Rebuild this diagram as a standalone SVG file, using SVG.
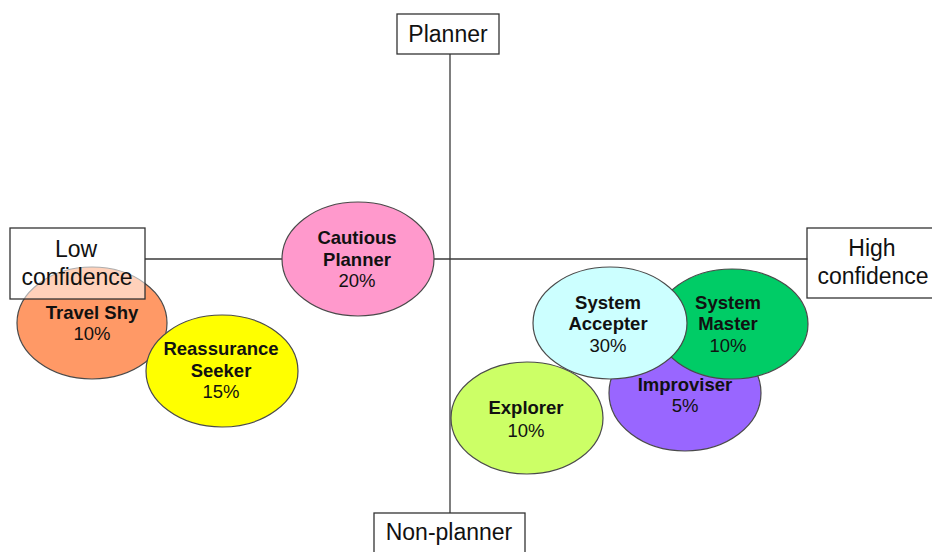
<svg xmlns="http://www.w3.org/2000/svg" width="932" height="552" viewBox="0 0 932 552">
  <style>
    .axis { stroke: #3a3a3a; stroke-width: 1.3; fill: none; }
    .seg { stroke: #4a4a4a; stroke-width: 1.2; }
    .box { fill: #ffffff; fill-opacity: 0.55; stroke: #333333; stroke-width: 1.3; }
    .lbl { font-family: "Liberation Sans", Arial, sans-serif; font-size: 23px; fill: #111111; text-anchor: middle; }
    .name { font-family: "Liberation Sans", Arial, sans-serif; font-size: 18.5px; font-weight: bold; fill: #111111; text-anchor: middle; }
    .pct { font-family: "Liberation Sans", Arial, sans-serif; font-size: 18.5px; fill: #111111; text-anchor: middle; }
  </style>

  <rect width="932" height="552" fill="#ffffff"/>

  <!-- axes -->
  <g id="connectors">
    <line class="axis" x1="450" y1="54" x2="450" y2="513"/>
    <line class="axis" x1="145" y1="259" x2="808" y2="259"/>
  </g>

  <!-- segments -->
  <g id="travel-shy">
    <ellipse class="seg" cx="92" cy="323" rx="75" ry="56" fill="#FF9966"/>
    <text class="name" x="92" y="319">Travel Shy</text>
    <text class="pct" x="92" y="340">10%</text>
  </g>
  <g id="reassurance-seeker">
    <ellipse class="seg" cx="222" cy="371" rx="76" ry="56" fill="#FFFF00"/>
    <text class="name" x="221" y="355">Reassurance</text>
    <text class="name" x="221" y="377">Seeker</text>
    <text class="pct" x="221" y="398">15%</text>
  </g>
  <g id="cautious-planner">
    <ellipse class="seg" cx="358" cy="259" rx="76" ry="57" fill="#FF99CC"/>
    <text class="name" x="357" y="244">Cautious</text>
    <text class="name" x="357" y="266">Planner</text>
    <text class="pct" x="357" y="287">20%</text>
  </g>
  <g id="explorer">
    <ellipse class="seg" cx="527" cy="418" rx="76" ry="56" fill="#CCFF66"/>
    <text class="name" x="526" y="414">Explorer</text>
    <text class="pct" x="526" y="437">10%</text>
  </g>
  <g id="improviser">
    <ellipse class="seg" cx="685" cy="393" rx="76" ry="58" fill="#9966FF"/>
    <text class="name" x="685" y="391">Improviser</text>
    <text class="pct" x="685" y="412">5%</text>
  </g>
  <g id="system-master">
    <ellipse class="seg" cx="732" cy="324" rx="76" ry="55" fill="#00CC66"/>
    <text class="name" x="728" y="309">System</text>
    <text class="name" x="728" y="330">Master</text>
    <text class="pct" x="728" y="352">10%</text>
  </g>
  <g id="system-accepter">
    <ellipse class="seg" cx="610" cy="323" rx="77" ry="56" fill="#CCFFFF"/>
    <text class="name" x="608" y="309">System</text>
    <text class="name" x="608" y="330">Accepter</text>
    <text class="pct" x="608" y="352">30%</text>
  </g>

  <!-- axis end labels -->
  <g id="planner">
    <rect class="box" x="397" y="14" width="102" height="40" fill-opacity="1"/>
    <text class="lbl" x="448" y="42">Planner</text>
  </g>
  <g id="non-planner">
    <rect class="box" x="374" y="513" width="151" height="50" fill-opacity="1"/>
    <text class="lbl" x="449" y="540">Non-planner</text>
  </g>
  <g id="low-confidence">
    <rect class="box" x="10" y="228" width="135" height="71"/>
    <text class="lbl" x="76" y="257">Low</text>
    <text class="lbl" x="77" y="285">confidence</text>
  </g>
  <g id="high-confidence">
    <rect class="box" x="807" y="228" width="130" height="70" fill-opacity="1"/>
    <text class="lbl" x="872" y="256">High</text>
    <text class="lbl" x="873" y="284">confidence</text>
  </g>
</svg>
